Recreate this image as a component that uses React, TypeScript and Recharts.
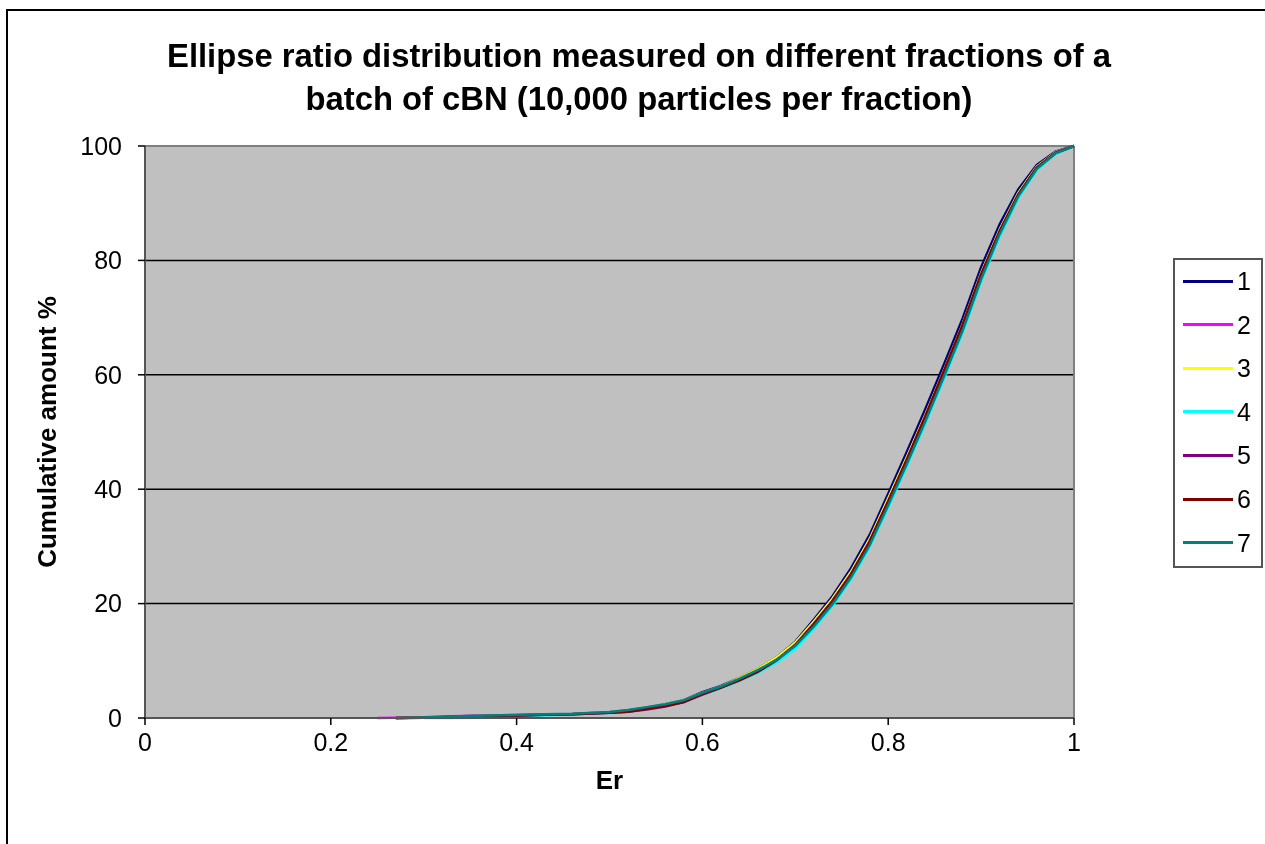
import React from "react";
import {
  LineChart,
  Line,
  XAxis,
  YAxis,
  CartesianGrid,
  ReferenceLine,
  Legend,
} from "recharts";

const er = [
  0.25, 0.27, 0.3, 0.33, 0.36, 0.4, 0.43, 0.46, 0.5, 0.52, 0.54, 0.56, 0.58,
  0.6, 0.62, 0.64, 0.66, 0.68, 0.7, 0.72, 0.74, 0.76, 0.78, 0.8, 0.82, 0.84,
  0.86, 0.88, 0.9, 0.92, 0.94, 0.96, 0.98, 1.0,
];

const s1 = [null, 0, 0.1, 0.25, 0.4, 0.5, 0.6, 0.7, 1.0, 1.3, 1.8, 2.4, 3.1, 4.5, 5.6, 7.0, 8.6, 10.6, 13.3, 17.2, 21.3, 26.2, 32.0, 39.2, 46.5, 54.0, 61.8, 69.8, 78.8, 86.3, 92.4, 96.7, 99.0, 100];
const s2 = [0, 0.05, 0.15, 0.3, 0.4, 0.5, 0.6, 0.7, 1.0, 1.3, 1.8, 2.3, 3.0, 4.3, 5.4, 6.8, 8.3, 10.3, 12.9, 16.6, 20.6, 25.3, 31.0, 38.0, 45.2, 52.7, 60.5, 68.5, 77.6, 85.2, 91.6, 96.3, 98.9, 100];
const s3 = [null, 0, 0.1, 0.25, 0.35, 0.5, 0.6, 0.7, 1.0, 1.3, 1.8, 2.4, 3.1, 4.4, 5.5, 7.0, 8.6, 10.6, 13.2, 16.9, 20.9, 25.6, 31.3, 38.4, 45.6, 53.0, 60.8, 68.8, 77.8, 85.4, 91.8, 96.4, 98.9, 100];
const s4 = [null, null, 0, 0, 0.05, 0.2, 0.5, 0.6, 0.9, 1.2, 1.7, 2.2, 2.9, 4.1, 5.2, 6.5, 7.9, 9.7, 12.1, 15.6, 19.6, 24.3, 29.9, 36.8, 44.0, 51.5, 59.3, 67.3, 76.3, 84.2, 90.9, 95.8, 98.6, 100];
const s5 = [null, 0, 0.05, 0.2, 0.3, 0.45, 0.55, 0.65, 0.9, 1.1, 1.5, 2.0, 2.8, 4.1, 5.3, 6.7, 8.2, 10.2, 12.8, 16.5, 20.5, 25.2, 30.9, 37.9, 45.1, 52.6, 60.4, 68.4, 77.4, 85.1, 91.5, 96.2, 98.8, 100];
const s6 = [null, 0, 0.05, 0.2, 0.3, 0.45, 0.55, 0.65, 0.9, 1.1, 1.6, 2.1, 2.8, 4.2, 5.3, 6.6, 8.1, 10.1, 12.7, 16.4, 20.4, 25.1, 30.8, 37.9, 45.2, 52.8, 60.7, 68.7, 77.6, 85.1, 91.5, 96.2, 98.8, 100];
const s7 = [null, 0, 0.1, 0.25, 0.4, 0.55, 0.65, 0.75, 1.05, 1.4, 1.9, 2.4, 3.1, 4.4, 5.5, 6.9, 8.4, 10.2, 12.6, 16.0, 19.9, 24.6, 30.2, 37.2, 44.4, 51.9, 59.7, 67.7, 76.7, 84.6, 91.2, 96.0, 98.7, 100];

const seriesNames = ["1", "2", "3", "4", "5", "6", "7"];
const seriesValues = [s1, s2, s3, s4, s5, s6, s7];
const seriesColors = ["#000080", "#FF00FF", "#FFFF00", "#00FFFF", "#800080", "#800000", "#008080"];

const xTicks = [0, 0.2, 0.4, 0.6, 0.8, 1];
const yTicks = [0, 20, 40, 60, 80, 100];

const titleLines = [
  "Ellipse ratio distribution measured on different fractions of a",
  "batch of cBN (10,000 particles per fraction)",
];
const xTitle = "Er";
const yTitle = "Cumulative amount %";

const data = er.map((x, i) => {
  const row: Record<string, number | null> = { er: x };
  seriesNames.forEach((n, k) => {
    row["s" + n] = seriesValues[k][i];
  });
  return row;
});

const FONT = '"Liberation Sans", Arial, sans-serif';

const LegendBox = () => (
  <div
    style={{
      width: 86,
      height: 306,
      border: "2px solid #555",
      background: "#fff",
      boxSizing: "content-box",
      fontFamily: FONT,
      position: "relative",
    }}
  >
    {seriesNames.map((n, i) => (
      <div
        key={n}
        style={{
          position: "absolute",
          left: 8,
          top: 21 + i * 43.6 - 15,
          height: 30,
          display: "flex",
          alignItems: "center",
        }}
      >
        <div style={{ width: 50, height: 3, background: seriesColors[i] }} />
        <span style={{ marginLeft: 4, fontSize: 25, color: "#000", lineHeight: "30px" }}>{n}</span>
      </div>
    ))}
  </div>
);

export default function App() {
  return (
    <div>
      <div
        style={{
          position: "fixed",
          left: 6,
          top: 9,
          width: 1300,
          height: 900,
          border: "2px solid #000",
          background: "#fff",
        }}
      />
      <div style={{ position: "fixed", left: 0, top: 0, width: 1265, height: 844 }}>
        {titleLines.map((t, i) => (
          <div
            key={i}
            style={{
              position: "absolute",
              left: 0,
              width: 1278,
              top: 36 + i * 43,
              textAlign: "center",
              fontFamily: FONT,
              fontWeight: "bold",
              fontSize: 32.8,
              lineHeight: "40px",
              color: "#000",
              whiteSpace: "nowrap",
            }}
          >
            {t}
          </div>
        ))}
        <LineChart
          width={1265}
          height={844}
          data={data}
          margin={{ top: 146, right: 101, bottom: 66, left: 85 }}
          style={{ position: "absolute", left: 0, top: 0 }}
        >
          <CartesianGrid
            fill="#C0C0C0"
            vertical={false}
            stroke="#000"
            strokeWidth={1.5}
            horizontalValues={[20, 40, 60, 80]}
          />
          <XAxis
            dataKey="er"
            type="number"
            domain={[0, 1]}
            ticks={xTicks}
            height={60}
            tickSize={7}
            tickMargin={8}
            axisLine={{ stroke: "#555", strokeWidth: 2 }}
            tickLine={{ stroke: "#000", strokeWidth: 1.5 }}
            tick={{ fill: "#000", fontSize: 25, fontFamily: FONT }}
            tickFormatter={(v: number) => String(v)}
            label={{
              value: xTitle,
              position: "insideBottom",
              offset: 0,
              dy: 11,
              style: { fill: "#000", fontSize: 26, fontWeight: "bold", fontFamily: FONT },
            }}
          />
          <YAxis
            type="number"
            domain={[0, 100]}
            ticks={yTicks}
            width={60}
            tickSize={7}
            tickMargin={16}
            axisLine={{ stroke: "#555", strokeWidth: 2 }}
            tickLine={{ stroke: "#000", strokeWidth: 1.5 }}
            tick={{ fill: "#000", fontSize: 25, fontFamily: FONT }}
            label={{
              value: yTitle,
              angle: -90,
              position: "left",
              offset: 38,
              style: { fill: "#000", fontSize: 26, fontWeight: "bold", fontFamily: FONT, textAnchor: "middle" },
            }}
          />
          <ReferenceLine y={100} stroke="#808080" strokeWidth={2} />
          <ReferenceLine x={1} stroke="#808080" strokeWidth={2} />
          {seriesNames.map((n, i) => (
            <Line
              key={n}
              type="linear"
              dataKey={"s" + n}
              name={n}
              stroke={seriesColors[i]}
              strokeWidth={2.5}
              dot={false}
              activeDot={false}
              connectNulls={false}
              isAnimationActive={false}
            />
          ))}
          <Legend
            layout="horizontal"
            align="right"
            verticalAlign="middle"
            content={() => <LegendBox />}
            wrapperStyle={{ position: "absolute", left: 1173, top: 258, width: 90 }}
          />
        </LineChart>
      </div>
    </div>
  );
}
